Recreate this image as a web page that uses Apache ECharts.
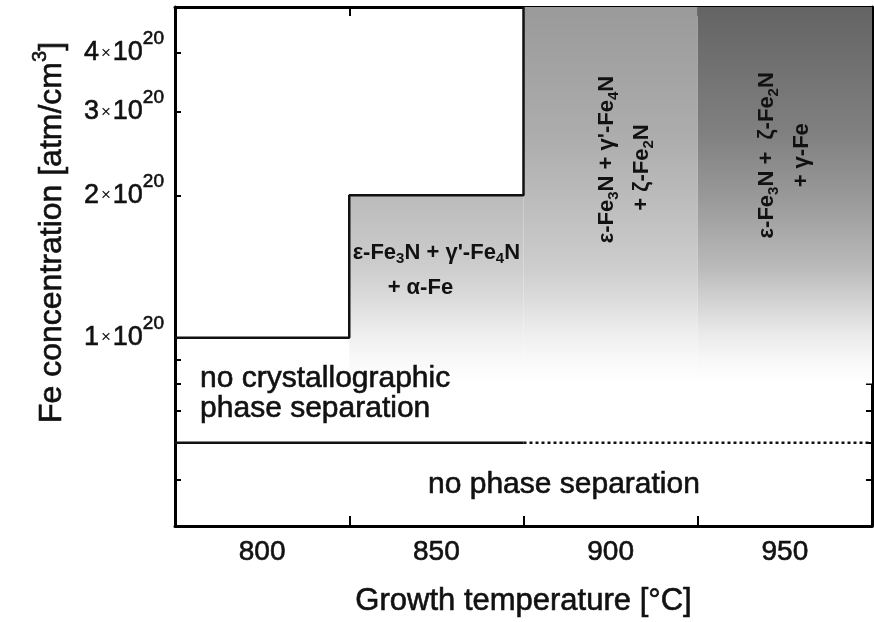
<!DOCTYPE html>
<html>
<head>
<meta charset="utf-8">
<script src="https://cdn.jsdelivr.net/npm/echarts@6/dist/echarts.min.js"></script>
<style>
  html, body { margin: 0; padding: 0; background: #ffffff; }
  #chart { width: 874px; height: 622px; }
</style>
</head>
<body>
<div id="chart"></div>
<script>
// Growth temperatures (°C): one column of the phase map each
const temperatures = ['800', '850', '900', '950'];
const temperatureRange = [775, 975];

// Fe concentration (atm/cm^3), logarithmic axis
const concentrationRange = [4e19, 5e20];
const concentrationLabelValues = [1e20, 2e20, 3e20, 4e20];
const concentrationLabelMantissas = ['1', '2', '3', '4'];
const concentrationLabelExponent = '20';
const concentrationMinorTicks = [5e19, 6e19, 7e19, 8e19, 9e19, 2e20, 3e20, 4e20];
const concentrationMajorTicks = [1e20];

// Onset of secondary phases (step boundary)
const precipitationBoundary = [[775, 1e20], [825, 1e20], [825, 2e20], [875, 2e20], [875, 5e20]];
// Lower limit of crystallographic phase separation: measured and extrapolated parts
const separationBoundaryMeasured = [[775, 6e19], [875, 6e19]];
const separationBoundaryExtrapolated = [[875, 6e19], [975, 6e19]];

// Shaded precipitate columns: [from °C, to °C, upper concentration, concentration where the shade fades out, shade index]
const precipitateColumns = [
  [825, 875, 2e20, 8e19, 0],
  [875, 925, 5e20, 8e19, 0],
  [925, 975, 5e20, 8e19, 1]
];

// Phase annotations: anchor [°C, concentration], rotation, rich text
const phaseLabels = [
  { at: [850, 1.39e20], rotate: 0, align: 'center',
    text: "{m|ε-Fe}{sub|3}{m|N + γ'-Fe}{sub|4}{m|N}\n{m|+ α-Fe}{gapL| }" },
  { at: [904, 2.38e20], rotate: 90, align: 'center',
    text: "{m|ε-Fe}{sub|3}{m|N + γ'-Fe}{sub|4}{m|N}\n{m|+ ζ-Fe}{sub|2}{m|N}{gapS| }" },
  { at: [950, 2.43e20], rotate: 90, align: 'center',
    text: "{m|ε-Fe}{sub|3}{m|N +  ζ-Fe}{sub|2}{m|N}\n{m|+ γ-Fe}" }
];
const regionLabels = [
  { at: [782.2, 7.6e19], align: 'left', text: 'no crystallographic\nphase separation' },
  { at: [886.6, 4.9e19], align: 'center', text: 'no phase separation' }
];

const FONT = "'Liberation Sans', Arial, Helvetica, sans-serif";
const INK = '#111111';
// a hairline outline gives the regular-weight text a slightly heavier stroke
const HEAVY = { textBorderColor: INK, textBorderWidth: 0.6 };

// Grey shades of the precipitate columns, from the top edge down to the fade-out level
const shadeStops = [
  [[0, '#9a9a9a'], [0.335, '#acacac'], [0.513, '#bcbcbc'], [0.691, '#cdcdcd'], [0.779, '#dcdcdc'], [0.867, '#eeeeee'], [0.94, '#f9f9f9'], [1, '#ffffff']],
  [[0, '#646464'], [0.335, '#808080'], [0.513, '#9a9a9a'], [0.691, '#bababa'], [0.779, '#d2d2d2'], [0.867, '#eaeaea'], [0.94, '#f8f8f8'], [1, '#ffffff']]
];

const chart = echarts.init(document.getElementById('chart'), null, { renderer: 'canvas' });

function concentrationLabel(value) {
  const i = concentrationLabelValues.findIndex(v => Math.abs(v - value) / v < 1e-6);
  if (i < 0) return '';
  return '{n|' + concentrationLabelMantissas[i] + '}{x|×}{n|10}{s|' + concentrationLabelExponent + '}';
}

const logAxisBase = {
  type: 'log',
  logBase: 10,
  min: concentrationRange[0],
  max: concentrationRange[1],
  splitLine: { show: false },
  minorTick: { show: false },
  minorSplitLine: { show: false }
};

const phaseRich = {
  m: { fontFamily: FONT, fontSize: 22, fontWeight: 'bold', lineHeight: 35, color: INK, verticalAlign: 'middle' },
  sub: { fontFamily: FONT, fontSize: 15, fontWeight: 'bold', lineHeight: 35, padding: [13, 0, 0, 0], color: INK, verticalAlign: 'middle' },
  gapL: { width: 32, fontSize: 22, lineHeight: 35 },
  gapS: { width: 16, fontSize: 22, lineHeight: 35 }
};

const option = {
  backgroundColor: '#ffffff',
  animation: false,
  grid: { left: 175, right: 2, top: 7, bottom: 96, containLabel: false, outerBoundsMode: 'none' },
  xAxis: [
    {
      type: 'category',
      position: 'bottom',
      data: temperatures,
      boundaryGap: true,
      axisLine: { show: true, lineStyle: { color: '#000', width: 3 } },
      axisTick: { show: true, inside: true, length: 10, lineStyle: { color: '#000', width: 2 } },
      axisLabel: Object.assign({ show: true, margin: 10, fontFamily: FONT, fontSize: 28, lineHeight: 32, color: INK }, HEAVY),
      splitLine: { show: false },
      name: 'Growth temperature [°C]',
      nameLocation: 'middle',
      nameGap: 57,
      nameTextStyle: Object.assign({ fontFamily: FONT, fontSize: 31, lineHeight: 36, color: INK }, HEAVY)
    },
    {
      type: 'category',
      position: 'top',
      data: temperatures,
      boundaryGap: true,
      axisLine: { show: true, lineStyle: { color: '#000', width: 3 } },
      axisTick: { show: true, inside: true, length: 9, lineStyle: { color: '#000', width: 2 } },
      axisLabel: { show: false },
      splitLine: { show: false }
    },
    {
      type: 'value',
      min: temperatureRange[0],
      max: temperatureRange[1],
      show: false
    }
  ],
  yAxis: [
    Object.assign({}, logAxisBase, {
      position: 'left',
      axisLine: { show: true, lineStyle: { color: '#000', width: 3 } },
      axisTick: { show: true, inside: true, length: 6, lineStyle: { color: '#000', width: 2 }, customValues: concentrationMinorTicks },
      axisLabel: {
        show: true,
        margin: 11,
        customValues: concentrationLabelValues,
        formatter: concentrationLabel,
        rich: {
          n: Object.assign({ fontFamily: FONT, fontSize: 27, lineHeight: 30, color: INK, verticalAlign: 'middle' }, HEAVY),
          x: { fontFamily: FONT, fontSize: 17, lineHeight: 30, padding: [0, 2, 0, 2], color: INK, verticalAlign: 'middle' },
          s: Object.assign({ fontFamily: FONT, fontSize: 19, lineHeight: 30, padding: [0, 0, 28, 0], color: INK, verticalAlign: 'middle' }, HEAVY)
        }
      },
      name: '{t|Fe concentration [atm/cm}{s|3}{t|]}',
      nameLocation: 'middle',
      nameGap: 103,
      nameTextStyle: {
        padding: [0, 0, 0, 68],
        rich: {
          t: Object.assign({ fontFamily: FONT, fontSize: 32, lineHeight: 40, color: INK, verticalAlign: 'middle' }, HEAVY),
          s: Object.assign({ fontFamily: FONT, fontSize: 20, lineHeight: 40, padding: [0, 0, 22, 0], color: INK, verticalAlign: 'middle' }, HEAVY)
        }
      }
    }),
    Object.assign({}, logAxisBase, {
      position: 'left',
      axisLine: { show: false },
      axisTick: { show: true, inside: true, length: 11, lineStyle: { color: '#000', width: 2 }, customValues: concentrationMajorTicks },
      axisLabel: { show: false }
    }),
    Object.assign({}, logAxisBase, {
      position: 'right',
      axisLine: { show: true, lineStyle: { color: '#000', width: 3 } },
      axisTick: { show: true, inside: true, length: 6, lineStyle: { color: '#000', width: 2 }, customValues: concentrationMinorTicks },
      axisLabel: { show: false }
    }),
    Object.assign({}, logAxisBase, {
      position: 'right',
      axisLine: { show: false },
      axisTick: { show: true, inside: true, length: 11, lineStyle: { color: '#000', width: 2 }, customValues: concentrationMajorTicks },
      axisLabel: { show: false }
    })
  ],
  series: [
    {
      name: 'precipitates',
      type: 'custom',
      xAxisIndex: 2,
      yAxisIndex: 0,
      silent: true,
      z: 1,
      data: precipitateColumns,
      renderItem: function (params, api) {
        const x0 = api.value(0), x1 = api.value(1);
        const top = api.value(2), fade = api.value(3);
        const stops = shadeStops[api.value(4)];
        const pTop = api.coord([x0, top]);
        const pBottom = api.coord([x1, fade]);
        const gradTop = api.coord([x0, concentrationRange[1]])[1];
        return {
          type: 'rect',
          shape: { x: pTop[0], y: pTop[1], width: pBottom[0] - pTop[0], height: pBottom[1] - pTop[1] },
          style: {
            fill: new echarts.graphic.LinearGradient(0, gradTop, 0, pBottom[1],
              stops.map(s => ({ offset: s[0], color: s[1] })), true)
          }
        };
      }
    },
    {
      name: 'precipitation boundary',
      type: 'line',
      xAxisIndex: 2,
      yAxisIndex: 0,
      data: precipitationBoundary,
      symbol: 'none',
      silent: true,
      z: 3,
      lineStyle: { color: '#111', width: 2.5 }
    },
    {
      name: 'separation boundary',
      type: 'line',
      xAxisIndex: 2,
      yAxisIndex: 0,
      data: separationBoundaryMeasured,
      symbol: 'none',
      silent: true,
      z: 3,
      lineStyle: { color: '#111', width: 2.5 }
    },
    {
      name: 'separation boundary (extrapolated)',
      type: 'line',
      xAxisIndex: 2,
      yAxisIndex: 0,
      data: separationBoundaryExtrapolated,
      symbol: 'none',
      silent: true,
      z: 3,
      lineStyle: { color: '#111', width: 2.5, type: [3, 3] }
    },
    {
      name: 'phase labels',
      type: 'scatter',
      xAxisIndex: 2,
      yAxisIndex: 0,
      symbolSize: 0,
      silent: true,
      z: 4,
      itemStyle: { opacity: 1 },
      data: phaseLabels.map(l => ({
        value: l.at,
        label: {
          show: true,
          position: 'inside',
          rotate: l.rotate,
          align: l.align,
          verticalAlign: 'middle',
          opacity: 1,
          formatter: l.text,
          rich: phaseRich
        }
      }))
    },
    {
      name: 'region labels',
      type: 'scatter',
      xAxisIndex: 2,
      yAxisIndex: 0,
      symbolSize: 0,
      silent: true,
      z: 4,
      itemStyle: { opacity: 1 },
      data: regionLabels.map(l => ({
        value: l.at,
        label: Object.assign({
          show: true,
          position: 'inside',
          align: l.align,
          verticalAlign: 'middle',
          opacity: 1,
          formatter: l.text,
          fontFamily: FONT,
          fontSize: 30,
          lineHeight: 30,
          color: INK
        }, HEAVY)
      }))
    }
  ]
};

chart.setOption(option);
</script>
</body>
</html>
